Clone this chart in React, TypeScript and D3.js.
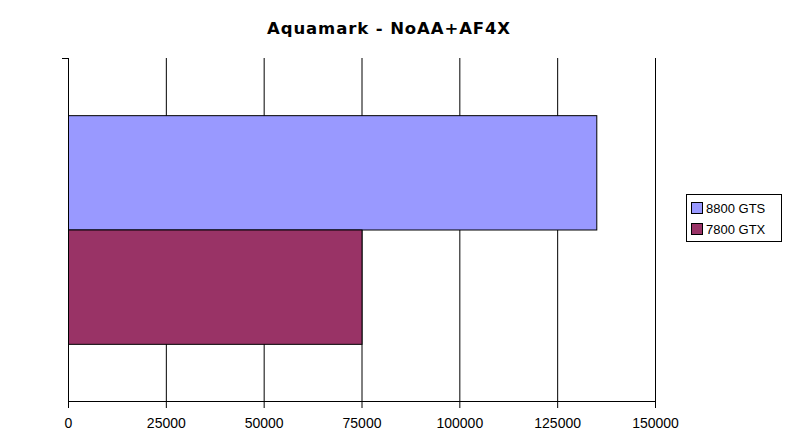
import React from "react";
import * as d3 from "d3";

const title = "Aquamark - NoAA+AF4X";
const categories = ["Aquamark"];
const seriesNames = ["8800 GTS", "7800 GTX"];
const seriesValues = [135000, 75000];
const seriesColors = ["#9999FF", "#993366"];
const xTicks = [0, 25000, 50000, 75000, 100000, 125000, 150000];

const W = 788;
const H = 438;
const plot = { left: 68, right: 655, top: 58, bottom: 401 };

export default function App() {
  const x = d3.scaleLinear().domain([0, 150000]).range([plot.left, plot.right]);
  const cat = d3.scaleBand().domain(categories).range([plot.top, plot.bottom]);
  const bw = cat.bandwidth();
  const c0 = cat(categories[0]) as number;
  const inner = d3
    .scaleBand()
    .domain(seriesNames)
    .range([c0 + bw / 6, c0 + bw - bw / 6])
    .padding(0);

  const legend = { x: 686, y: 194, w: 95, h: 47 };

  return (
    <svg
      width={W}
      height={H}
      style={{ position: "absolute", left: 0, top: 0, background: "#fff" }}
    >
      <text
        x={389}
        y={34}
        textAnchor="middle"
        fontFamily="DejaVu Sans, Verdana, sans-serif"
        fontWeight="bold"
        fontSize={16.5}
        letterSpacing={0.9}
        fill="#000"
      >
        {title}
      </text>

      {/* gridlines */}
      {xTicks.map((t) => (
        <line
          key={"g" + t}
          x1={x(t) + 0.5}
          x2={x(t) + 0.5}
          y1={plot.top}
          y2={plot.bottom}
          stroke="#000"
          strokeWidth={1}
        />
      ))}

      {/* bars */}
      {seriesNames.map((s, i) => (
        <rect
          key={s}
          x={x(0) + 0.5}
          y={(inner(s) as number) + 0.5}
          width={x(seriesValues[i]) - x(0)}
          height={inner.bandwidth()}
          fill={seriesColors[i]}
          stroke="#000"
          strokeWidth={1}
        />
      ))}

      {/* y axis */}
      <line x1={plot.left + 0.5} x2={plot.left + 0.5} y1={plot.top} y2={plot.bottom + 6} stroke="#000" />
      <line x1={plot.left - 6} x2={plot.left + 0.5} y1={plot.top + 0.5} y2={plot.top + 0.5} stroke="#000" />

      {/* x axis */}
      <line x1={plot.left} x2={plot.right + 1} y1={plot.bottom + 0.5} y2={plot.bottom + 0.5} stroke="#000" />
      {xTicks.map((t) => (
        <g key={"t" + t}>
          <line
            x1={x(t) + 0.5}
            x2={x(t) + 0.5}
            y1={plot.bottom}
            y2={plot.bottom + 7}
            stroke="#000"
          />
          <text
            x={x(t) + 0.5}
            y={428}
            textAnchor="middle"
            fontFamily="Liberation Sans, Arial, sans-serif"
            fontSize={14}
            fill="#000"
          >
            {t}
          </text>
        </g>
      ))}

      {/* legend */}
      <rect
        x={legend.x + 0.5}
        y={legend.y + 0.5}
        width={legend.w}
        height={legend.h}
        fill="#fff"
        stroke="#000"
      />
      {seriesNames.map((s, i) => (
        <g key={"l" + s}>
          <rect
            x={691.5}
            y={202.5 + i * 21}
            width={11}
            height={11}
            fill={seriesColors[i]}
            stroke="#000"
          />
          <text
            x={706}
            y={213 + i * 21}
            fontFamily="Liberation Sans, Arial, sans-serif"
            fontSize={13}
            fill="#000"
          >
            {s}
          </text>
        </g>
      ))}
    </svg>
  );
}
